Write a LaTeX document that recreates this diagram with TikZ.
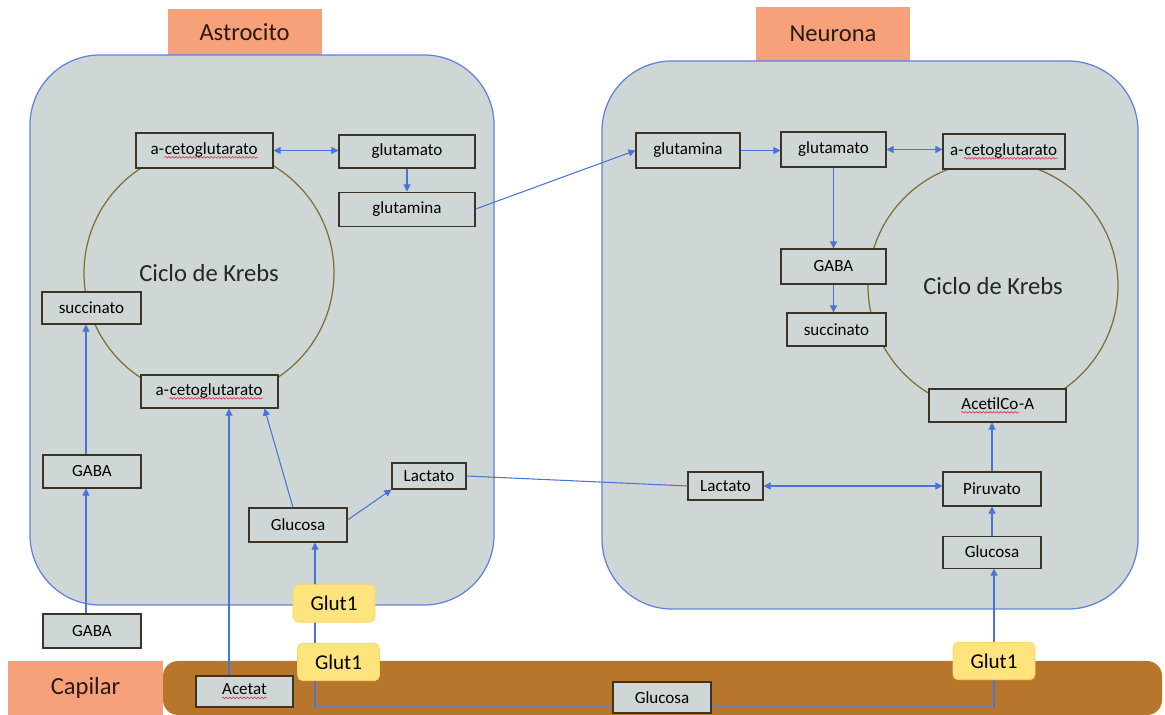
\documentclass[tikz,border=0pt]{standalone}
\usepackage{fontspec}
\setmainfont{Carlito}
\usetikzlibrary{positioning}
\usetikzlibrary{arrows.meta}
\usetikzlibrary{decorations.pathmorphing}

\definecolor{cellgray}{RGB}{206,214,214}
\definecolor{cellblue}{RGB}{95,130,220}
\definecolor{tagorange}{RGB}{247,161,122}
\definecolor{tagtext}{RGB}{42,26,20}
\definecolor{boxline}{RGB}{60,52,38}
\definecolor{flowblue}{RGB}{72,116,216}
\definecolor{krebsline}{RGB}{128,110,52}
\definecolor{capbrown}{RGB}{184,118,44}
\definecolor{glutyellow}{RGB}{255,228,125}
\definecolor{capline}{RGB}{112,126,160}
\definecolor{spellred}{RGB}{222,60,90}

% red spell-check squiggle under a word
\newcommand{\wavy}[1]{\tikz[baseline=(w.base)]{\node(w)[inner sep=0pt, minimum size=0pt, draw=none, fill=none, anchor=base]{#1}; \draw[spellred, line width=0.4pt, decorate, decoration={snake, amplitude=0.45pt, segment length=2pt}] ([yshift=-1.7pt]w.base west) -- ([yshift=-1.7pt]w.base east);}}

\begin{document}
\begin{tikzpicture}[
    >={Triangle[length=4pt, width=4pt]},
    mol/.style={draw=boxline, fill=cellgray, line width=0.6pt, inner sep=0pt, minimum height=0.68cm, font=\fontsize{9.7}{11}\selectfont},
    tag/.style={fill=tagorange, inner sep=0pt, text=tagtext, font=\fontsize{14}{16}\selectfont},
    cell/.style={draw=cellblue, fill=cellgray, line width=0.7pt, rounded corners=1.4cm, inner sep=0pt},
    krebs/.style={draw=krebsline, line width=0.7pt, circle, minimum size=5cm, text=black!85, font=\fontsize{14}{16}\selectfont},
    glut/.style={fill=glutyellow, draw=glutyellow!85!orange, rounded corners=3pt, minimum width=1.64cm, minimum height=0.75cm, inner sep=0pt, font=\fontsize{12}{14}\selectfont},
    flow/.style={draw=flowblue, line width=0.6pt, ->},
    link/.style={draw=flowblue, line width=0.6pt},
]

    \useasboundingbox (0,0) rectangle (23.3,14.3);

    % cells and labels
    \node(AT)[tag, minimum width=3.08cm, minimum height=0.92cm] at (4.89,13.66){Astrocito};
    \node(NT)[tag, minimum width=3.08cm, minimum height=1.08cm] at (16.66,13.62){Neurona};
    \node(astro)[cell, minimum width=9.28cm, minimum height=11cm] at (5.24,7.7){};
    \node(neuron)[cell, minimum width=10.72cm, minimum height=10.96cm] at (17.4,7.6){};

    \node(cap)[fill=capbrown, rounded corners=0.3cm, minimum width=19.98cm, minimum height=1.08cm, inner sep=0pt] at (13.25,0.54){};
    \node(CT)[tag, minimum width=3.1cm, minimum height=1.08cm] at (1.71,0.54){Capilar};

    \node(kA)[krebs] at (4.18,8.84){Ciclo de Krebs};
    \node(kN)[krebs] at (19.86,8.58){Ciclo de Krebs};

    % astrocito
    \node(akT)[mol, minimum width=2.74cm, minimum height=0.70cm] at (4.09,11.29){a-\wavy{cetoglutarato}};
    \node(gluA)[mol, minimum width=2.72cm, minimum height=0.66cm] at (8.14,11.27){glutamato};
    \node(glnA)[mol, minimum width=2.72cm, below=0.46cm of gluA]{glutamina};
    \node(sucA)[mol, minimum width=1.98cm, minimum height=0.64cm] at (1.83,8.14){succinato};
    \node(akB)[mol, minimum width=2.74cm, minimum height=0.66cm] at (4.19,6.47){a-\wavy{cetoglutarato}};
    \node(gabaA)[mol, minimum width=1.96cm, minimum height=0.66cm] at (1.84,4.87){GABA};
    \node(lacA)[mol, minimum width=1.48cm, minimum height=0.52cm] at (8.58,4.78){Lactato};
    \node(glcA)[mol, minimum width=1.96cm] at (5.96,3.80){Glucosa};
    \node(gabaO)[mol, minimum width=1.96cm] at (1.84,1.68){GABA};
    \node(acetat)[mol, minimum width=1.94cm, minimum height=0.62cm] at (4.89,0.47){\wavy{Acetat}};

    % neurona
    \node(glnN)[mol, minimum width=2.08cm, minimum height=0.70cm] at (13.76,11.29){glutamina};
    \node(gluN)[mol, minimum width=2.10cm, minimum height=0.70cm] at (16.67,11.31){glutamato};
    \node(akN)[mol, minimum width=2.44cm, minimum height=0.70cm] at (20.08,11.27){a-\wavy{cetoglutarato}};
    \node(gabaN)[mol, minimum width=2.10cm, minimum height=0.70cm] at (16.67,8.97){GABA};
    \node(sucN)[mol, minimum width=1.98cm, minimum height=0.66cm] at (16.73,7.71){succinato};
    \node(acoa)[mol, minimum width=2.74cm, minimum height=0.66cm] at (19.95,6.19){\wavy{AcetilCo}-A};
    \node(lacN)[mol, minimum width=1.50cm, minimum height=0.56cm] at (14.51,4.58){Lactato};
    \node(piru)[mol, minimum width=1.96cm] at (19.84,4.52){Piruvato};
    \node(glcN)[mol, minimum width=1.96cm, minimum height=0.64cm, below=0.58cm of piru]{Glucosa};

    \draw[flow, <->] (akT.east) -- (akT.east -| gluA.west);
    \draw[flow] (gluA) -- (glnA);
    \draw[flow] (glnA.east) -- (glnN.west);
    \draw[flow] ([xshift=-0.12cm]gabaA.north) -- ([xshift=-0.12cm]gabaA.north |- sucA.south);
    \draw[flow] ([xshift=-0.12cm]gabaO.north) -- ([xshift=-0.12cm]gabaO.north |- gabaA.south);
    \draw[flow] ([xshift=-0.31cm]acetat.north) -- ([xshift=-0.31cm]acetat.north |- akB.south);
    \draw[flow] ([xshift=-0.1cm]glcA.north) -- ([xshift=1.1cm]akB.south);
    \draw[flow] ([yshift=0.1cm]glcA.east) -- (lacA.south west);
    \draw[link] (lacA.east) -- (lacN.west);

    \draw[flow] (glnN.east) -- (glnN.east -| gluN.west);
    \draw[flow, <->] (gluN.east) -- (gluN.east -| akN.west);
    \draw[flow] (gluN) -- (gabaN);
    \draw[flow] (gabaN.south) -- (gabaN.south |- sucN.north);
    \draw[flow, <->] (lacN.east) -- (lacN.east -| piru.west);
    \draw[flow] (glcN) -- (piru);
    \draw[flow] (piru.north) -- (piru.north |- acoa.south);

    % capilar
    \coordinate(cL) at (6.30,0.16);
    \coordinate(cR) at (19.88,0.16);
    \draw[capline, line width=1pt] (cL) -- (cR);
    \draw[flow] (cL) -- (cL |- glcA.south);
    \draw[flow] (cR) -- (cR |- glcN.south);

    \node(glutA)[glut] at (6.68,2.23){Glut1};
    \node(glutC)[glut] at (6.77,1.06){Glut1};
    \node(glutN)[glut] at (19.88,1.08){Glut1};
    \node(glcC)[mol, minimum width=1.96cm, minimum height=0.62cm] at (13.24,0.35){Glucosa};

\end{tikzpicture}
\end{document}
